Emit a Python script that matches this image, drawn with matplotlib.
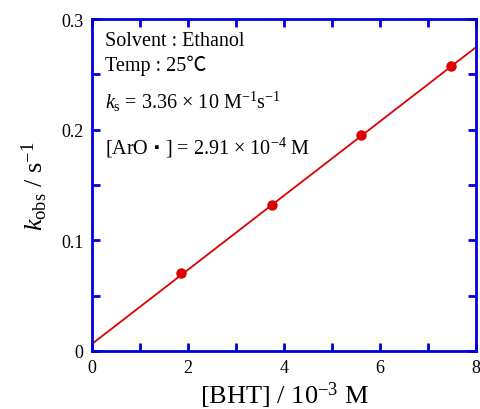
import matplotlib
matplotlib.use("Agg")
import matplotlib.pyplot as plt

plt.rcParams['font.family'] = ['Liberation Serif', 'Noto Sans CJK JP', 'DejaVu Serif']
plt.rcParams['mathtext.fontset'] = 'custom'
plt.rcParams['mathtext.rm'] = 'Liberation Serif'
plt.rcParams['mathtext.it'] = 'Liberation Serif:italic'

# measured points
bht = [1.86, 3.74, 5.60, 7.48]
kobs = [0.0703, 0.132, 0.195, 0.2575]
# fitted line end points
fit_x = [0, 8]
fit_y = [0.0063, 0.2747]

xticks = [0, 2, 4, 6, 8]
xminor = [1, 3, 5, 7]
yticks = [0, 0.1, 0.2, 0.3]
yminor = [0.05, 0.15, 0.25]

blue = '#0000dd'
red = '#dd0000'

fig = plt.figure(figsize=(4.81, 4.10), dpi=100)
ax = fig.add_axes([0.191, 0.1415, 0.799, 0.8095])

ax.plot(fit_x, fit_y, color=red, lw=1.3, zorder=2)
ax.plot(bht, kobs, 'o', color=red, ms=6.5, zorder=3)

ax.set_xlim(0, 8)
ax.set_ylim(0, 0.3)
ax.set_xticks(xticks)
ax.set_xticks(xminor, minor=True)
ax.set_xticklabels([str(v) for v in xticks])
ax.set_yticks(yticks)
ax.set_yticks(yminor, minor=True)
ax.set_yticklabels(['0', '0.1', '0.2', '0.3'])

for sp in ax.spines.values():
    sp.set_color(blue)
    sp.set_linewidth(2)
ax.tick_params(which='both', direction='in', top=True, right=True,
               color=blue, width=2, length=6, labelsize=13, pad=6)

ax.set_xlabel(r'[BHT] / 10$^{-3}$ M', fontsize=19, labelpad=2)
ax.set_ylabel(r'$k_{\mathrm{obs}}$ / s$^{-1}$', fontsize=19, labelpad=8)

tx = 0.035
fs = 14.5
ax.text(tx, 0.935, 'Solvent : Ethanol', transform=ax.transAxes, fontsize=fs, va='center')
ax.text(tx, 0.862, 'Temp : 25\u2103', transform=ax.transAxes, fontsize=fs, va='center')
ax.text(tx, 0.755, r'$k_{\mathrm{s}}$ = 3.36 × 10 M$^{-1}$s$^{-1}$',
        transform=ax.transAxes, fontsize=fs, va='center')
ax.text(tx, 0.615, r'[ArO $\bf{\cdot}$ ] = 2.91 × 10$^{-4}$ M',
        transform=ax.transAxes, fontsize=fs, va='center')

fig.savefig('out.png', dpi=100)
